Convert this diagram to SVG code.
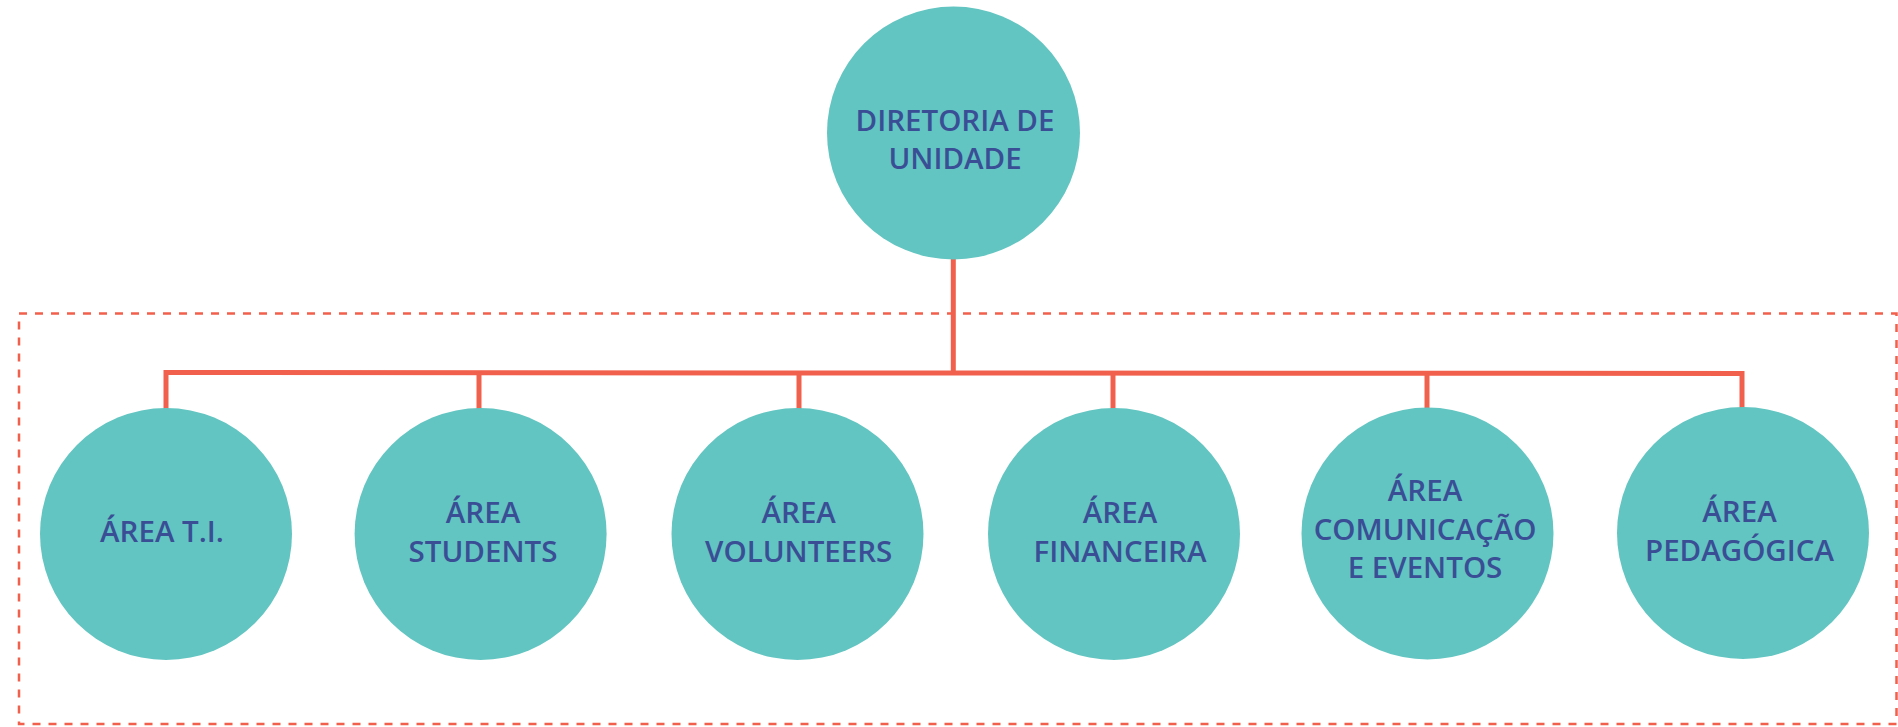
<svg xmlns="http://www.w3.org/2000/svg" width="1898" height="727" viewBox="0 0 1898 727">
<style>
.node circle{fill:#62c5c1}
.node text{font-family:"Open Sans","Noto Sans","Liberation Sans",sans-serif;font-weight:600;font-size:29.5px;fill:#3a4e96;text-anchor:middle}
.conn{stroke:#f1604c;stroke-width:5;fill:none}
.frame{stroke:#f1604c;stroke-width:2.5;fill:none;stroke-dasharray:8 8}
</style>
<rect width="1898" height="727" fill="#ffffff"/>
<rect class="frame" x="19" y="313.5" width="1877.5" height="410.5"/>
<g id="connectors">
<path class="conn" d="M953.3,255 V373"/>
<path class="conn" d="M166,410 V372.5 L1742,373.5 V410"/>
<path class="conn" d="M479,372.7 V410"/>
<path class="conn" d="M799,372.7 V410"/>
<path class="conn" d="M1113,373 V410"/>
<path class="conn" d="M1427,373.2 V410"/>
</g>
<g id="n-diretoria" class="node">
<circle cx="953.5" cy="133" r="126.5"/>
<text x="955" y="131">DIRETORIA DE</text>
<text x="955" y="169">UNIDADE</text>
</g>
<g id="n-ti" class="node">
<circle cx="166" cy="534" r="126"/>
<text x="162" y="542">ÁREA T.I.</text>
</g>
<g id="n-students" class="node">
<circle cx="480.6" cy="534" r="126"/>
<text x="483" y="522.7">ÁREA</text>
<text x="483" y="561.7">STUDENTS</text>
</g>
<g id="n-volunteers" class="node">
<circle cx="797.5" cy="534" r="126"/>
<text x="798.7" y="522.7">ÁREA</text>
<text x="798.7" y="561.7">VOLUNTEERS</text>
</g>
<g id="n-financeira" class="node">
<circle cx="1114" cy="534" r="126"/>
<text x="1120" y="522.7">ÁREA</text>
<text x="1120" y="561.7">FINANCEIRA</text>
</g>
<g id="n-comunicacao" class="node">
<circle cx="1427.5" cy="533.5" r="126"/>
<text x="1425" y="500.7">ÁREA</text>
<text x="1425" y="540">COMUNICAÇÃO</text>
<text x="1425" y="578.3">E EVENTOS</text>
</g>
<g id="n-pedagogica" class="node">
<circle cx="1743" cy="533" r="126"/>
<text x="1739.5" y="522">ÁREA</text>
<text x="1739.5" y="561">PEDAGÓGICA</text>
</g>
</svg>
